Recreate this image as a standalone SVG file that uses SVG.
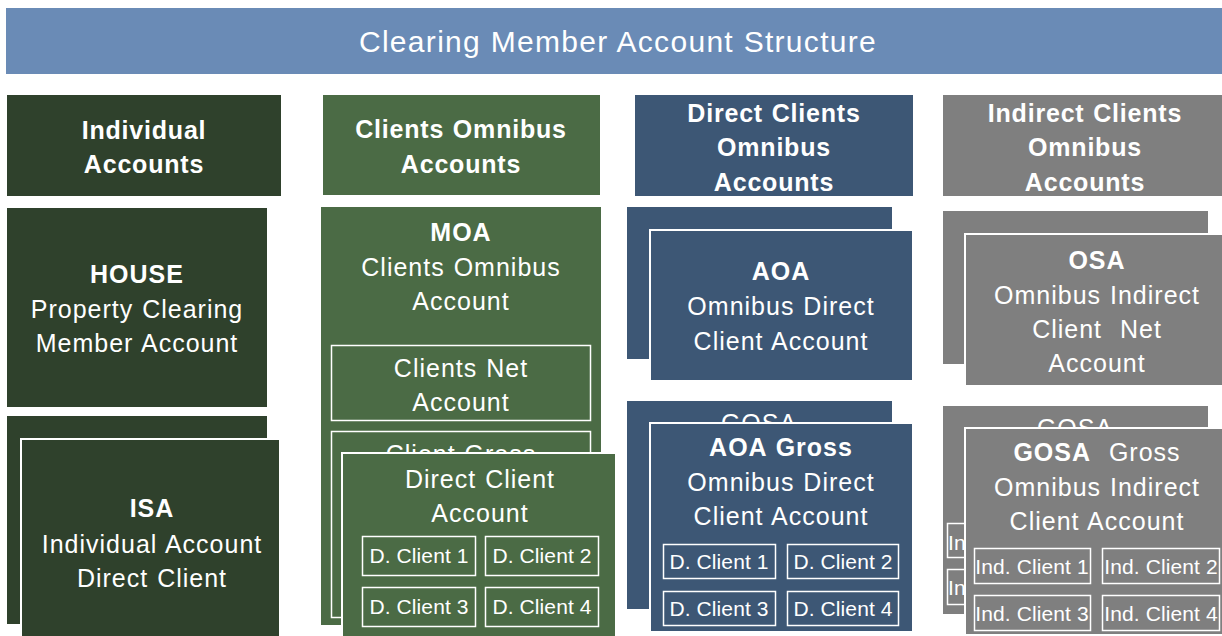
<svg xmlns="http://www.w3.org/2000/svg" width="1222" height="636" viewBox="0 0 1222 636">
<style>
text{font-family:"Liberation Sans",Arial,sans-serif;fill:#fff;text-anchor:middle}
.h{font-size:25px;font-weight:bold;letter-spacing:0.8px;word-spacing:1px}
.t{font-size:25px;letter-spacing:1px;word-spacing:1px}
.b{font-weight:bold}
.s{font-size:21px;letter-spacing:0.1px}
.g1{fill:#2f412c}
.g2{fill:#4b6b45}
.g3{fill:#3d5775}
.g4{fill:#7f7f7f}
.fr{stroke:#fff;stroke-width:2}
.in{fill:none;stroke:#fff;stroke-width:1.5}
</style>
<rect width="1222" height="636" fill="#fff"/>
<g id="title">
<rect x="6" y="8" width="1216" height="66" fill="#6a8bb6"/>
<text x="618" y="52" style="font-size:30px;letter-spacing:1.3px">Clearing Member Account Structure</text>
</g>
<g id="hdr-individual">
<rect class="g1" x="7" y="95" width="274" height="101"/>
<text class="h" x="144" y="139">Individual</text>
<text class="h" x="144" y="173">Accounts</text>
</g>
<g id="hdr-clients-omnibus">
<rect class="g2" x="323" y="95" width="277" height="100"/>
<text class="h" x="461" y="138">Clients Omnibus</text>
<text class="h" x="461" y="173">Accounts</text>
</g>
<g id="hdr-direct">
<rect class="g3" x="635" y="95" width="278" height="101"/>
<text class="h" x="774" y="122">Direct Clients</text>
<text class="h" x="774" y="156">Omnibus</text>
<text class="h" x="774" y="191">Accounts</text>
</g>
<g id="hdr-indirect">
<rect class="g4" x="943" y="95" width="279" height="101"/>
<text class="h" x="1085" y="122">Indirect Clients</text>
<text class="h" x="1085" y="156">Omnibus</text>
<text class="h" x="1085" y="191">Accounts</text>
</g>
<g id="house">
<rect class="g1" x="7" y="208" width="260" height="199"/>
<text class="t b" x="137" y="283">HOUSE</text>
<text class="t" x="137" y="318">Property Clearing</text>
<text class="t" x="137" y="352">Member Account</text>
</g>
<g id="isa-back">
<rect class="g1" x="7" y="416" width="260" height="208"/>
</g>
<g id="isa">
<rect class="g1 fr" x="21" y="439" width="259" height="200"/>
<text class="t b" x="152" y="517">ISA</text>
<text class="t" x="152" y="553">Individual Account</text>
<text class="t" x="152" y="587">Direct Client</text>
</g>
<g id="moa">
<rect class="g2" x="321" y="207" width="280" height="418"/>
<text class="t b" x="461" y="241">MOA</text>
<text class="t" x="461" y="276">Clients Omnibus</text>
<text class="t" x="461" y="310">Account</text>
</g>
<g id="clients-net">
<rect class="in" x="331.5" y="345.5" width="259" height="75"/>
<text class="t" x="461" y="377">Clients Net</text>
<text class="t" x="461" y="411">Account</text>
</g>
<g id="client-gross">
<rect class="in" x="331.5" y="431.5" width="259" height="186"/>
<text class="t" x="461" y="463">Client Gross</text>
</g>
<g id="direct-client-account">
<rect class="g2 fr" x="342" y="453" width="274" height="186"/>
<text class="t" x="480" y="488">Direct Client</text>
<text class="t" x="480" y="522">Account</text>
<rect class="in" x="362.5" y="536.5" width="113" height="39"/>
<text class="s" x="419" y="563">D. Client 1</text>
<rect class="in" x="485.5" y="536.5" width="113" height="39"/>
<text class="s" x="542" y="563">D. Client 2</text>
<rect class="in" x="362.5" y="587.5" width="113" height="39"/>
<text class="s" x="419" y="614">D. Client 3</text>
<rect class="in" x="485.5" y="587.5" width="113" height="39"/>
<text class="s" x="542" y="614">D. Client 4</text>
</g>
<g id="aoa-back">
<rect class="g3" x="627" y="207" width="265" height="152"/>
</g>
<g id="aoa">
<rect class="g3 fr" x="650" y="230" width="263" height="151"/>
<text class="t b" x="781" y="280">AOA</text>
<text class="t" x="781" y="315">Omnibus Direct</text>
<text class="t" x="781" y="350">Client Account</text>
</g>
<g id="gosa-direct-back">
<rect class="g3" x="627" y="401" width="265" height="208"/>
<text class="t" x="759" y="432">GOSA</text>
</g>
<g id="aoa-gross">
<rect class="g3 fr" x="650" y="423" width="263" height="209"/>
<text class="t b" x="781" y="456">AOA Gross</text>
<text class="t" x="781" y="491">Omnibus Direct</text>
<text class="t" x="781" y="525">Client Account</text>
<rect class="in" x="663.5" y="544.5" width="112" height="34"/>
<text class="s" x="719" y="569">D. Client 1</text>
<rect class="in" x="787.5" y="544.5" width="111" height="34"/>
<text class="s" x="843" y="569">D. Client 2</text>
<rect class="in" x="663.5" y="591.5" width="112" height="34"/>
<text class="s" x="719" y="616">D. Client 3</text>
<rect class="in" x="787.5" y="591.5" width="111" height="34"/>
<text class="s" x="843" y="616">D. Client 4</text>
</g>
<g id="osa-back">
<rect class="g4" x="943" y="211" width="265" height="153"/>
</g>
<g id="osa">
<rect class="g4 fr" x="965" y="234" width="260" height="152"/>
<text class="t b" x="1097" y="269">OSA</text>
<text class="t" x="1097" y="304">Omnibus Indirect</text>
<text class="t" x="1097" y="338">Client&#160; Net</text>
<text class="t" x="1097" y="372">Account</text>
</g>
<g id="gosa-indirect-back">
<rect class="g4" x="943" y="406" width="265" height="208"/>
<text class="t" x="1075" y="437">GOSA</text>
<rect class="in" x="947.5" y="523.5" width="116" height="34"/>
<text class="s" x="948" y="550" style="text-anchor:start">Ind. Client 1</text>
<rect class="in" x="947.5" y="569.5" width="116" height="35"/>
<text class="s" x="948" y="595" style="text-anchor:start">Ind. Client 3</text>
</g>
<g id="gosa">
<rect class="g4 fr" x="965" y="428" width="260" height="207"/>
<text class="t" x="1097" y="461"><tspan class="b">GOSA</tspan>&#160; Gross</text>
<text class="t" x="1097" y="496">Omnibus Indirect</text>
<text class="t" x="1097" y="530">Client Account</text>
<rect class="in" x="974.5" y="548.5" width="116" height="35"/>
<text class="s" x="1032" y="574">Ind. Client 1</text>
<rect class="in" x="1102.5" y="548.5" width="117" height="35"/>
<text class="s" x="1161" y="574">Ind. Client 2</text>
<rect class="in" x="974.5" y="595.5" width="116" height="35"/>
<text class="s" x="1032" y="621">Ind. Client 3</text>
<rect class="in" x="1102.5" y="595.5" width="117" height="35"/>
<text class="s" x="1161" y="621">Ind. Client 4</text>
</g>
<g id="connectors"/>
</svg>
